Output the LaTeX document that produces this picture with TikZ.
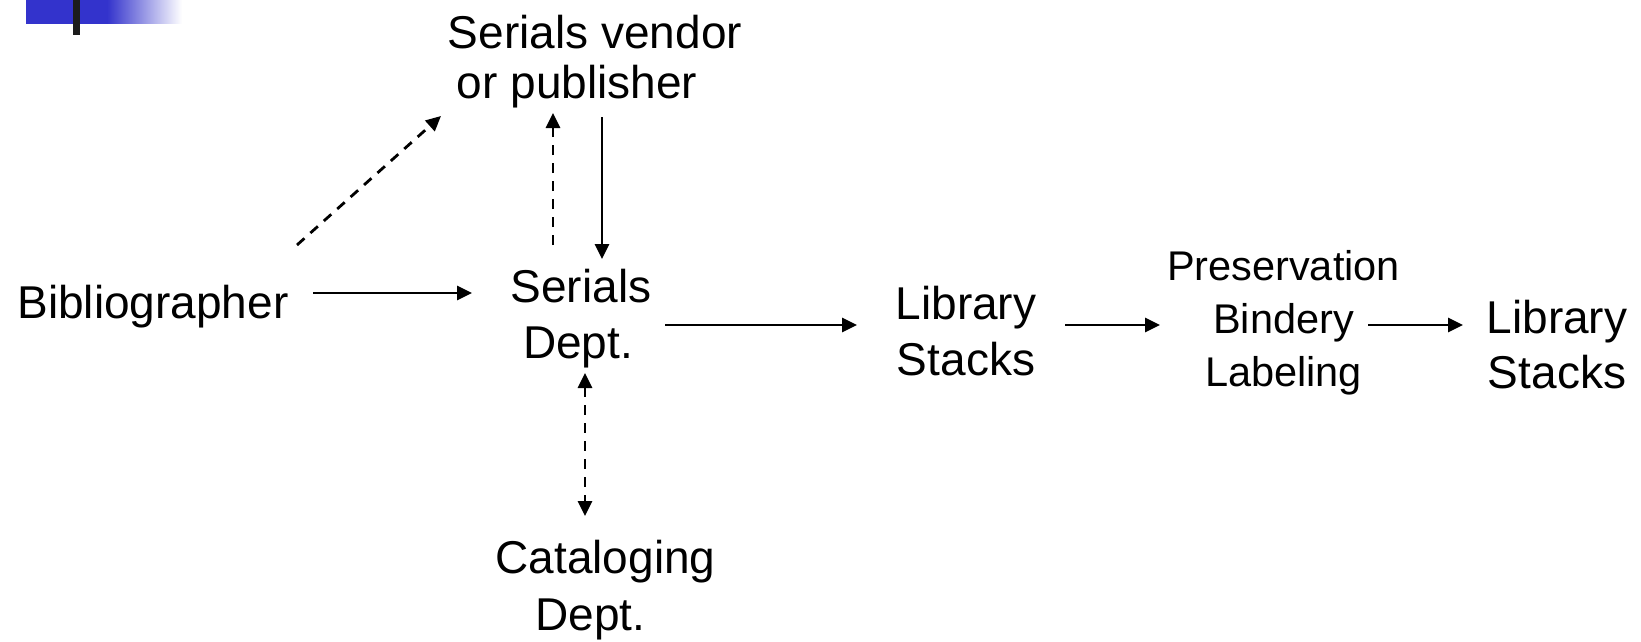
\documentclass[tikz,border=0pt]{standalone}
\usepackage{fontspec}
\setmainfont{Liberation Sans}
\usetikzlibrary{arrows.meta}
\definecolor{hdrblue}{RGB}{51,51,204}
\definecolor{hdrbar}{RGB}{28,28,28}
\tikzset{
  big/.style={font=\fontsize{46}{#1}\selectfont, align=center, inner sep=0pt, anchor=base},
  small/.style={font=\fontsize{41.5}{#1}\selectfont, align=center, inner sep=0pt, anchor=base},
  arr/.style={line width=2.8pt, -{Triangle[length=15pt,width=14pt]}},
  darr/.style={arr, dash pattern=on 10pt off 8pt},
  ddarr/.style={line width=2.8pt, {Triangle[length=15pt,width=14pt]}-{Triangle[length=15pt,width=14pt]}, dash pattern=on 10pt off 8pt}
}
\begin{document}
\begin{tikzpicture}[x=1pt,y=-1pt]
\useasboundingbox (0,0) rectangle (1641,642);
% header decoration
\fill[hdrblue] (26,0) rectangle (108,24);
\shade[left color=hdrblue, right color=white, draw=none] (107,0) rectangle (182,24);
\fill[hdrbar] (73,0) rectangle (80,35);
% nodes (anchor = baseline of the last line)
\node[big=51] (vendor) at (595,99) {Serials vendor\\or publisher\hspace*{36pt}};
\node[big=56] (bib) at (153,318) {Bibliographer};
\node[big=56] (serials) at (581,358) {Serials\\Dept.\hspace*{6pt}};
\node[big=56] (stacksA) at (966,375) {Library\\Stacks};
\node[small=53] (pres) at (1283.5,386) {Preservation\\Bindery\\Labeling};
\node[big=55] (stacksB) at (1557,388) {Library\\Stacks};
\node[big=57] (catalog) at (605.5,630) {Cataloging\\Dept.\hspace*{30pt}};
% connector end points
\coordinate (bibE) at (313,293);
\coordinate (serW) at (472,293);
\coordinate (serE) at (665,325);
\coordinate (stAW) at (857,325);
\coordinate (stAE) at (1065,325);
\coordinate (presW) at (1160,325);
\coordinate (presE) at (1368,325);
\coordinate (stBW) at (1463,325);
\coordinate (venS) at (602,117);
\coordinate (serN) at (602,259);
\coordinate (serNd) at (553,245);
\coordinate (venSd) at (553,113);
\coordinate (bibNE) at (297,245);
\coordinate (venSW) at (441,116);
\coordinate (serS) at (585,373);
\coordinate (catN) at (585,516);
% connectors
\draw[arr] (bibE) -- (serW);
\draw[arr] (serE) -- (stAW);
\draw[arr] (stAE) -- (presW);
\draw[arr] (presE) -- (stBW);
\draw[arr] (venS) -- (serN);
\draw[darr] (serNd) -- (venSd);
\draw[darr] (bibNE) -- (venSW);
\draw[ddarr] (serS) -- (catN);
\end{tikzpicture}
\end{document}
